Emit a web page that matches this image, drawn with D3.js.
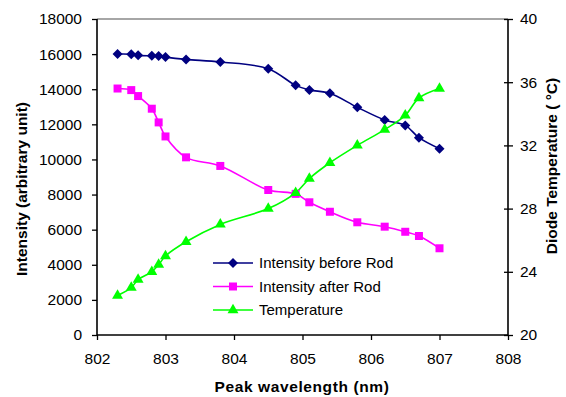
<!DOCTYPE html>
<html lang="en">
<head>
  <meta charset="UTF-8">
  <title>Intensity and temperature vs peak wavelength</title>
  <script src="https://cdn.jsdelivr.net/npm/d3@7"></script>
  <style>
    body { margin: 0; background: #fff; font-family: Arial, "Liberation Sans", sans-serif; }
    svg text { fill: #000; }
  </style>
</head>
<body>
  <script>
    // data
    const wavelength = [802.3, 802.5, 802.6, 802.8, 802.9, 803.0, 803.3, 803.8, 804.5, 804.9, 805.1, 805.4, 805.8, 806.2, 806.5, 806.7, 807.0];
    const intensityBefore = [16000, 15990, 15930, 15900, 15890, 15830, 15700, 15550, 15170, 14220, 13960, 13770, 12970, 12250, 11940, 11240, 10610];
    const intensityAfter = [14040, 13950, 13610, 12890, 12110, 11310, 10120, 9630, 8260, 8040, 7560, 7020, 6420, 6170, 5880, 5640, 4940];
    const temperature = [22.5, 23.0, 23.5, 24.0, 24.45, 25.0, 25.9, 27.0, 28.0, 29.0, 29.9, 30.9, 32.0, 33.0, 33.9, 35.0, 35.6];

    const xTicks = [802, 803, 804, 805, 806, 807, 808];
    const yLeftTicks = [0, 2000, 4000, 6000, 8000, 10000, 12000, 14000, 16000, 18000];
    const yRightTicks = [20, 24, 28, 32, 36, 40];

    const width = 566, height = 397;
    const plotLeft = 97, plotRight = 508, plotTop = 19, plotBottom = 335;

    const svg = d3.select("body").append("svg")
      .attr("width", width).attr("height", height);

    const x = d3.scaleLinear().domain([802, 808]).range([plotLeft, plotRight]);
    const yL = d3.scaleLinear().domain([0, 18000]).range([plotBottom, plotTop]);
    const yR = d3.scaleLinear().domain([20, 40]).range([plotBottom, plotTop]);

    // top frame line (grey)
    svg.append("line")
      .attr("x1", plotLeft).attr("x2", plotRight).attr("y1", plotTop).attr("y2", plotTop)
      .attr("stroke", "#888").attr("stroke-width", 1.3);

    // axes
    const xAxis = svg.append("g")
      .attr("transform", `translate(0,${plotBottom})`)
      .call(d3.axisBottom(x).tickValues(xTicks).tickFormat(d3.format("d")).tickSize(5).tickPadding(13));

    const yAxisL = svg.append("g")
      .attr("transform", `translate(${plotLeft},0)`)
      .call(d3.axisLeft(yL).tickValues(yLeftTicks).tickFormat(d3.format("d")).tickSize(5).tickPadding(10));

    const yAxisR = svg.append("g")
      .attr("transform", `translate(${plotRight},0)`)
      .call(d3.axisRight(yR).tickValues(yRightTicks).tickFormat(d3.format("d")).tickSize(5).tickPadding(7));
    yAxisR.selectAll(".tick line").attr("x1", -4);

    [xAxis, yAxisL, yAxisR].forEach(g => {
      g.select(".domain").attr("stroke", "#000").attr("stroke-width", 1.6);
      g.selectAll(".tick line").attr("stroke", "#000").attr("stroke-width", 1.3);
      g.selectAll(".tick text")
        .attr("font-family", "Arial, 'Liberation Sans', sans-serif")
        .attr("font-size", 15.5);
    });
    yAxisL.select(".domain").attr("d", `M0,${plotTop}V${plotBottom}`);
    yAxisR.select(".domain").attr("d", `M0,${plotTop}V${plotBottom}`);
    xAxis.select(".domain").attr("d", `M${plotLeft},0H${plotRight}`);

    // axis titles
    svg.append("text")
      .attr("x", 302).attr("y", 392)
      .attr("text-anchor", "middle")
      .attr("font-size", 15.5).attr("font-weight", "bold")
      .attr("letter-spacing", 0.6)
      .text("Peak wavelength (nm)");

    svg.append("text")
      .attr("transform", "translate(27,189) rotate(-90)")
      .attr("text-anchor", "middle")
      .attr("font-size", 15.5).attr("font-weight", "bold")
      .text("Intensity (arbitrary unit)");

    svg.append("text")
      .attr("transform", "translate(557,166) rotate(-90)")
      .attr("text-anchor", "middle")
      .attr("font-size", 15.5).attr("font-weight", "bold")
      .text("Diode Temperature ( °C)");

    // series
    const series = [
      { name: "Intensity before Rod", values: intensityBefore, y: yL, color: "#000080", shape: "diamond" },
      { name: "Intensity after Rod", values: intensityAfter, y: yL, color: "#FF00FF", shape: "square" },
      { name: "Temperature", values: temperature, y: yR, color: "#00FF00", shape: "triangle" }
    ];

    const symbolPath = shape => {
      if (shape === "diamond") return d3.symbol(d3.symbolSquare, 50)();
      if (shape === "square") return d3.symbol(d3.symbolSquare, 64)();
      return d3.symbol(d3.symbolTriangle, 52)();
    };
    const symbolRotate = shape => shape === "diamond" ? " rotate(45)" : "";

    series.forEach(s => {
      const pts = wavelength.map((w, i) => [x(w), s.y(s.values[i])]);
      svg.append("path")
        .attr("d", d3.line().curve(d3.curveCatmullRom.alpha(0.5))(pts))
        .attr("fill", "none")
        .attr("stroke", s.color)
        .attr("stroke-width", 1.6);
    });

    series.forEach(s => {
      svg.append("g").selectAll("path")
        .data(wavelength)
        .join("path")
        .attr("d", symbolPath(s.shape))
        .attr("transform", (w, i) => `translate(${x(w)},${s.y(s.values[i])})${symbolRotate(s.shape)}`)
        .attr("fill", s.color);
    });

    // legend
    const legend = svg.append("g");
    series.forEach((s, i) => {
      const ly = 263 + i * 23.5;
      legend.append("line")
        .attr("x1", 213).attr("x2", 253).attr("y1", ly).attr("y2", ly)
        .attr("stroke", s.color).attr("stroke-width", 1.6);
      legend.append("path")
        .attr("d", symbolPath(s.shape))
        .attr("transform", `translate(233,${ly})${symbolRotate(s.shape)}`)
        .attr("fill", s.color);
      legend.append("text")
        .attr("x", 259).attr("y", ly).attr("dy", "0.36em")
        .attr("font-size", 15)
        .text(s.name);
    });
  </script>
</body>
</html>
